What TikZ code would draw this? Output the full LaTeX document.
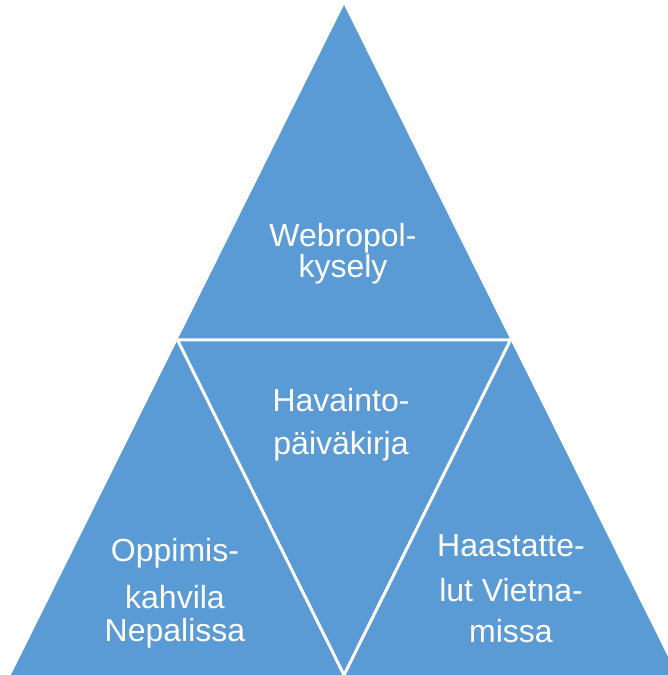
\documentclass[tikz,border=0pt]{standalone}
\usepackage{fontspec}
\setmainfont{Liberation Sans}
\usetikzlibrary{calc}
\definecolor{tribg}{HTML}{5B9BD5}
\tikzset{lbl/.style={text=white,font=\fontsize{32}{38}\selectfont,anchor=base,inner sep=0pt}}
\begin{document}
\begin{tikzpicture}[x=1pt,y=1pt]
\useasboundingbox (0,0) rectangle (668,675);
\clip (0,0) rectangle (668,675);
% big triangle and its corners
\coordinate (top) at (344,670);
\coordinate (bl) at (11,0);
\coordinate (br) at (677,0);
\coordinate (ml) at ($(top)!0.5!(bl)$);
\coordinate (mr) at ($(top)!0.5!(br)$);
\coordinate (mb) at ($(bl)!0.5!(br)$);
\fill[tribg] (top) -- (bl) -- (br) -- cycle;
\draw[white,line width=3] (ml) -- (mr) -- (mb) -- cycle;
% texts
\node[lbl] (web1) at (343,428) {Webropol-};
\node[lbl] (web2) at (343,397) {kysely};
\node[lbl] (hav1) at (341,263) {Havainto-};
\node[lbl] (hav2) at (341,220) {päiväkirja};
\node[lbl] (opp1) at (175,113) {Oppimis-};
\node[lbl] (opp2) at (175,66) {kahvila};
\node[lbl] (opp3) at (175,34) {Nepalissa};
\node[lbl] (haa1) at (511,118) {Haastatte-};
\node[lbl] (haa2) at (511,73) {lut Vietna-};
\node[lbl] (haa3) at (511,32) {missa};
\end{tikzpicture}
\end{document}
